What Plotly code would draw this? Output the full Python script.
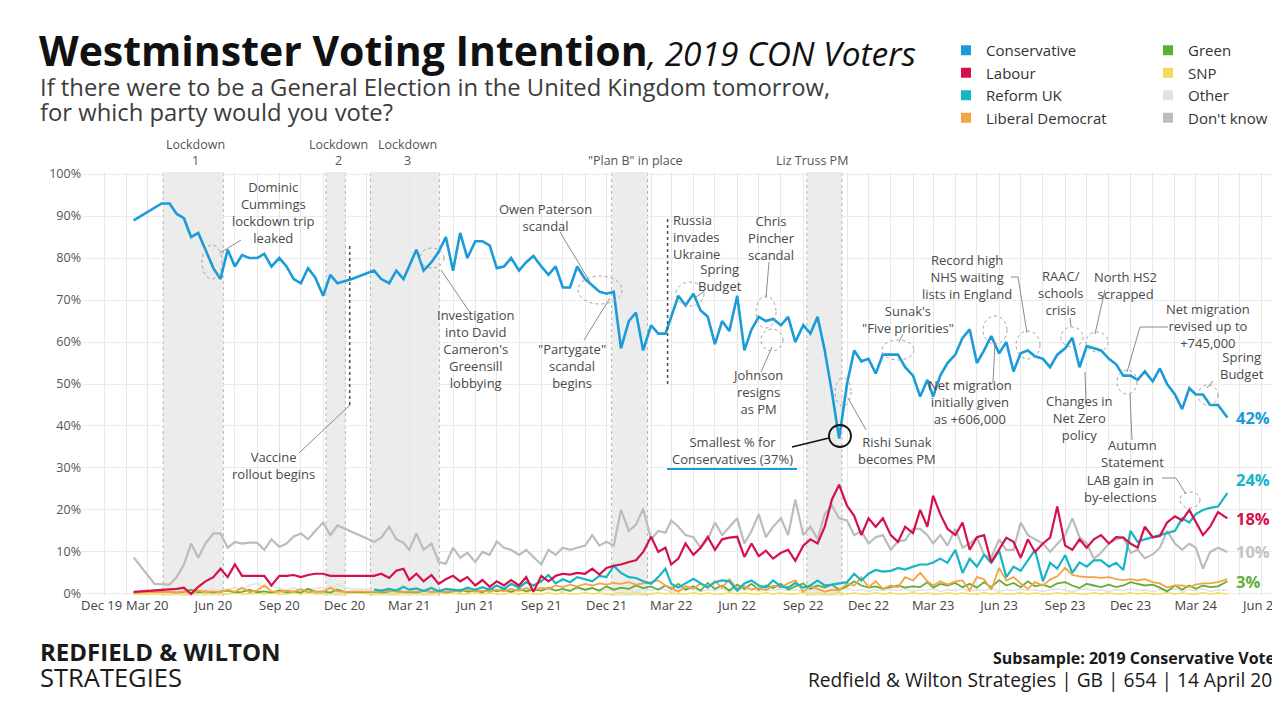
import plotly.graph_objects as go

# ---------------- DATA ----------------
poll_dates = [
    "2020-02-11", "2020-02-21",
    "2020-03-01", "2020-03-11", "2020-03-21", "2020-04-01", "2020-04-11", "2020-04-21",
    "2020-05-01", "2020-05-11", "2020-05-21", "2020-06-01", "2020-06-11", "2020-06-21",
    "2020-07-01", "2020-07-11", "2020-07-21", "2020-08-01", "2020-08-11", "2020-08-21",
    "2020-09-01", "2020-09-11", "2020-09-21", "2020-10-01", "2020-10-11", "2020-10-21",
    "2020-11-01", "2020-11-11", "2020-11-21", "2020-12-01", "2020-12-11", "2020-12-21",
    "2021-01-01", "2021-01-11", "2021-01-21", "2021-02-01", "2021-02-11", "2021-02-21",
    "2021-03-01", "2021-03-11", "2021-03-21", "2021-04-01", "2021-04-11", "2021-04-21",
    "2021-05-01", "2021-05-11", "2021-05-21", "2021-06-01", "2021-06-11", "2021-06-21",
    "2021-07-01", "2021-07-11", "2021-07-21", "2021-08-01", "2021-08-11", "2021-08-21",
    "2021-09-01", "2021-09-11", "2021-09-21", "2021-10-01", "2021-10-11", "2021-10-21",
    "2021-11-01", "2021-11-11", "2021-11-21", "2021-12-01", "2021-12-11", "2021-12-21",
    "2022-01-01", "2022-01-11", "2022-01-21", "2022-02-01", "2022-02-11", "2022-02-21",
    "2022-03-01", "2022-03-11", "2022-03-21", "2022-04-01", "2022-04-11", "2022-04-21",
    "2022-05-01", "2022-05-11", "2022-05-21", "2022-06-01", "2022-06-11", "2022-06-21",
    "2022-07-01", "2022-07-11", "2022-07-21", "2022-08-01", "2022-08-11", "2022-08-21",
    "2022-09-01", "2022-09-11", "2022-09-21", "2022-10-01", "2022-10-11", "2022-10-21",
    "2022-11-01", "2022-11-11", "2022-11-21", "2022-12-01", "2022-12-11", "2022-12-21",
    "2023-01-01", "2023-01-11", "2023-01-21", "2023-02-01", "2023-02-11", "2023-02-21",
    "2023-03-01", "2023-03-11", "2023-03-21", "2023-04-01", "2023-04-11", "2023-04-21",
    "2023-05-01", "2023-05-11", "2023-05-21", "2023-06-01", "2023-06-11", "2023-06-21",
    "2023-07-01", "2023-07-11", "2023-07-21", "2023-08-01", "2023-08-11", "2023-08-21",
    "2023-09-01", "2023-09-11", "2023-09-21", "2023-10-01", "2023-10-11", "2023-10-21",
    "2023-11-01", "2023-11-11", "2023-11-21", "2023-12-01", "2023-12-11", "2023-12-21",
    "2024-01-01", "2024-01-11", "2024-01-21", "2024-02-01", "2024-02-11", "2024-02-21",
    "2024-03-01", "2024-03-11", "2024-03-21", "2024-04-01", "2024-04-14",
]

N = None
conservative = [
    89, N, N, N, 93, 93, 90.5, 89.5, 85, 86, 82, 77.6, 75, 82, 78, 80.7, 80, 80, 81, 78,
    80, 78, 75, 74, 77.6, 75.4, 71, 76, 74, 74.5, 75, N,
    N, 77, 75, 74, 77, 75, 78, 82, 77, 79, 81.5, 85, 77, 86, 80, 84, 84, 83,
    77.6, 78, 80, 77, 79, 80.5, 78, 76, 78, 73, 73, 78, 75, 73.5, 72, 71.5, 72, 58.5,
    65, 67, 58, 64, 62, 62, 66, 71, 68.7, 71.5, 67.5, 66, 59.5, 65, 62.6, 71, 58, 63,
    66, 65, 65.5, 64, 66, 60, 64, 62, 66, 58, 48, 37, 50, 58, 55.4, 56, 52.5, 57,
    57, 57, 54, 52, 47, 51, 47, 52, 55, 57, 61, 63, 55, 58, 61.4, 57.3, 60, 53,
    57.3, 58, 56.6, 56, 54, 57, 58.5, 61, 54, 59, 58.5, 58, 56, 54.7, 52, 52, 51, 53,
    50.6, 53.7, 50, 47.5, 44, 49, 47.5, 47.5, 45, 45, 42,
]
labour = [
    0.5, N, N, N, 1, 1, 1.2, 1.5, 0, 1.7, 3, 4, 6, 4, 7, 4.3, 4.3, 4.3, 4.3, 2,
    4.3, 4.3, 4.5, 4, 4.5, 4.8, 4.8, 4.3, 4.3, 4.3, 4.3, N,
    N, 4.3, 4.8, 3.8, 5.5, 6, 3.3, 4.8, 3, 4.5, 2.4, 3.5, 4.3, 3, 4, 2, 3.3, 1.7,
    3, 2, 3.3, 2, 4, 0.5, 4.3, 3, 4.3, 4.8, 4.6, 5, 4.8, 6, 4.6, 6.2, 6.7, 7,
    7.6, 8, 10, 13.6, 10, 11, 7, 8.4, 12, 9.3, 11, 13.6, 10.5, 13, 13.4, 13.6, 8.8, 12,
    9, 10.3, 8.4, 9.8, 10.5, 7.9, 11.5, 13, 12, 16, 22.5, 26, 21, 18.6, 14, 18, 16, 18,
    14, 12.4, 16, 14.5, 20, 16, 23.4, 19, 15.5, 14, 17, 10.5, 13.5, 14, 7.5, 10.5, 13.4, 12.4,
    8.6, 13, 10, 12, 13.4, 20.8, 11.5, 10.5, 13, 11, 13, 14, 12, 13.5, 13.4, 12, 11, 16,
    13.5, 13.8, 17, 18.5, 17.5, 20, 17, 14, 16, 19.5, 18,
]
reform_uk = [
    N, N, N, N, N, N, N, N, N, N, N, N, N, N, N, N, N, N, N, N,
    N, N, N, N, N, N, N, N, N, N, N, N,
    N, 1, 0.8, 1.2, 0.8, 1.7, 1, 1.3, 0.7, 1.4, 0.6, 1.2, 1, 0.8, 1.5, 1, 1.6, 1,
    2, 1.2, 2.4, 1.5, 2.8, 2, 3, 4.5, 2.5, 3.5, 2.8, 4, 3.5, 3, 4.3, 4, 6.7, 5,
    4, 3.8, 3, 2.4, 4, 6, 2.4, 1.5, 2.5, 3.6, 2.5, 1.6, 2.8, 3.2, 3, 0.8, 2.5, 3.2,
    2, 1.5, 3.2, 1.8, 1.5, 2.6, 1.5, 2, 3.2, 2, 2.2, 2.5, 2.8, 4.8, 3.2, 4.8, 5.7, 5.3,
    5.5, 6.2, 5.8, 6.5, 7, 7, 7.5, 8.4, 7.4, 10.5, 5, 8.4, 6.5, 9.3, 7.4, 10.3, 4, 6.5,
    5.5, 8, 10.5, 3, 7.4, 6, 9.2, 5, 7.5, 6.5, 8, 8, 6.5, 7.4, 5.7, 15, 12.4, 13,
    13.5, 14, 14.5, 15, 18, 17, 19, 20, 20.5, 20.8, 24,
]
lib_dem = [
    0.3, N, N, N, 0.5, 0.5, 0.3, 0.6, 0.2, 0.8, 0.5, 0.6, 0.4, 1, 0.5, 1.5, 0.4, 0.8, 2, 0.6,
    0.5, 0.8, 0.5, 1.2, 0.4, 0.6, 0.5, 1.5, 0.6, 0.5, 0.6, N,
    N, 0.5, 0.5, 0.8, 0.5, 0.4, 0.6, 0.5, 0.8, 0.4, 0.6, 0.5, 0.8, 0.5, 1, 0.6, 0.8, 0.5,
    1, 0.6, 1.2, 0.8, 1.4, 0.9, 1.5, 1.2, 2, 1.6, 2.2, 1.8, 2.4, 2, 2.5, 2.2, 2.6, 2.4,
    2.8, 2.2, 2.4, 2.8, 3.2, 2, 1.5, 0.5, 1.8, 1.2, 2.5, 1.4, 3, 1.5, 3.5, 1.2, 1.8, 1,
    1.5, 0.8, 2, 1.6, 2.5, 3.2, 0.5, 1.8, 1.2, 0.5, 1, 0.8, 2.5, 2, 4, 1.6, 3, 1.2,
    2, 1.6, 4, 3.2, 5, 3, 2, 3, 2.2, 3, 3.2, 0.8, 4, 3.5, 1, 6.2, 3.2, 4,
    2.5, 1.2, 2.8, 2, 3.4, 4.2, 6.2, 4.5, 4.2, 4, 4, 3.8, 4, 3.5, 3.3, 3.5, 3.2, 3.5,
    2.8, 2.5, 1.5, 2, 2, 1.6, 2.2, 2.5, 2.5, 2.8, 3.5,
]
green = [
    0.3, N, N, N, 0.6, 0.4, 0.3, 0.5, 1, 0.4, 0.6, 0.3, 0.5, 0.8, 0.4, 0.5, 1, 0.4, 0.6, 0.3,
    0.8, 0.4, 0.6, 0.3, 1.2, 0.5, 0.6, 0.3, 1, 0.5, 0.4, N,
    N, 0.5, 0.3, 0.6, 0.8, 0.4, 0.5, 0.3, 0.7, 0.5, 0.8, 0.4, 0.6, 1, 0.5, 0.8, 0.4, 1.2,
    0.6, 1, 0.5, 1.2, 0.6, 1, 0.8, 1.5, 0.8, 1.2, 0.7, 1.6, 1, 1.4, 0.8, 1.8, 1, 1.5,
    1.2, 2, 1.4, 1.8, 1, 2, 1.2, 2.4, 1, 1.8, 0.8, 2.6, 1.2, 2, 0.8, 2.2, 1.2, 2.4,
    1, 2, 1.4, 2.4, 1, 1.8, 2.5, 1.2, 2, 1.5, 2.2, 1, 1.8, 3, 2, 1.5, 1.8, 1.2,
    1.6, 2, 1.5, 1.8, 1.6, 2.8, 1.5, 2.4, 2, 2.6, 1.6, 2.4, 1.5, 2.8, 1.6, 3.3, 2, 2.6,
    1.6, 3, 1.8, 2.2, 1.6, 2.5, 2.8, 2, 1.4, 2.4, 2, 1.6, 2.2, 1.6, 2, 2.8, 2.4, 2,
    2.2, 1.5, 0.6, 2, 1, 2, 1.2, 2, 1.6, 1.8, 3,
]
snp = [
    0, N, N, N, 0, 0, 0.2, 0, 0, 0.3, 0, 0.2, 0, 0, 0.3, 0, 0, 0.2, 0, 0.3,
    0, 0, 0.2, 0, 0.3, 0, 0, 0.2, 0, 0, 0.3, N,
    N, 0, 0.2, 0, 0, 0.3, 0, 0.2, 0, 0, 0.3, 0, 0.2, 0, 0, 0.3, 0, 0.2,
    0, 0, 0.3, 0, 0.2, 0, 0, 0.3, 0, 0.2, 0, 0, 0.3, 0, 0.2, 0, 0, 0.3,
    0, 0.2, 0, 0, 0.3, 0, 0.2, 0, 0, 0.3, 0, 0.2, 0, 0, 0.3, 0, 0.2, 0,
    0, 0.3, 0, 0.2, 0, 0, 0.3, 0, 0.2, 0, 0, 0.3, 0, 0.2, 0, 0, 0.3, 0,
    0.2, 0, 0, 0.3, 0, 0.2, 0, 0, 0.3, 0, 0.2, 0, 0, 0.3, 0, 0.2, 0, 0,
    0.3, 0, 0.2, 0, 0, 0.3, 0, 0.2, 0, 0, 0.3, 0, 0.2, 0, 0, 0.3, 0, 0.2,
    0, 0, 0.3, 0, 0.2, 0, 0, 0.3, 0, 0.2, 0,
]
other = [
    0.5, N, N, N, 0.4, 0.6, 0.5, 0.8, 1, 0.6, 0.8, 1.2, 0.8, 1, 1.5, 1, 2, 2.5, 1.5, 2,
    1.2, 1, 1.4, 0.8, 1, 1.2, 1.5, 1, 2.2, 1.5, 1.2, N,
    N, 1, 0.8, 1.2, 0.8, 1, 0.6, 1, 0.8, 1.2, 0.8, 1, 0.6, 1, 0.8, 1.2, 0.6, 1,
    0.8, 1.4, 1, 0.6, 1, 0.8, 1.2, 0.8, 1, 0.6, 1, 1.2, 0.8, 1.2, 0.6, 1, 0.8, 1.2,
    1, 0.6, 1.2, 0.8, 1.4, 1, 0.6, 1, 0.8, 1.2, 0.6, 1, 0.8, 1.2, 0.6, 1, 0.8, 1.4,
    0.6, 1, 0.8, 1.2, 0.8, 1, 0.6, 1, 1.2, 0.8, 0.6, 1, 1.2, 0.8, 1, 0.6, 1, 0.8,
    1, 0.8, 1.2, 0.6, 1, 0.8, 1.2, 0.6, 1, 0.8, 1.2, 0.6, 1, 0.8, 1.4, 0.6, 1, 0.8,
    1.2, 0.8, 1, 0.6, 1, 1.2, 0.8, 0.6, 1, 1.2, 0.8, 1, 0.6, 1, 0.8, 1.2, 0.8, 1,
    0.6, 1, 0.8, 1.2, 0.6, 1, 0.8, 1.2, 0.6, 1, 0.8,
]
dont_know = [
    8.7, N, N, 2.4, N, 2.2, 4, 7, 12, 8.6, 12, 14.4, 14.4, 11, 12.4, 12, 12.2, 12.2, 10.5, 13,
    11.2, 12, 13.7, 14.4, 13, 15, 17, 14, 16.3, N, N, N,
    N, 12.4, 13.4, 16, 13, 12.2, 10.5, 14.4, 10.5, 12, 7.6, 7.2, 11, 8.6, 9.8, 7.6, 10, 9.3,
    12.5, 11, 10.5, 9.3, 10.5, 8.8, 7, 10.5, 9.3, 11, 10.5, 11, 11.5, 14, 11.5, 12.4, 11.5, 20,
    15, 16.5, 20.3, 13, 15, 14.6, 17.5, 16, 14, 13.5, 11, 13, 17, 14, 16, 18, 12, 15,
    19, 13.5, 16, 18, 14, 22.5, 14, 16, 13, 19, 21, 18, 17.5, 14, 15, 12, 13.5, 14,
    10.5, 12.5, 12.8, 15.5, 15.5, 14, 12, 14, 11.5, 15.5, 11, 12, 13.5, 9.3, 8.6, 13, 10.5, 10.5,
    17, 14, 13, 12, 10, 12, 14, 18, 13.5, 12, 8.4, 9.8, 12, 13, 13.5, 9.8, 10.5, 8.5,
    9.4, 11, 15, 12, 10.5, 12, 11, 6, 10, 11, 10,
]

parties = ["Conservative", "Labour", "Reform UK", "Liberal Democrat",
           "Green", "SNP", "Other", "Don't know"]
party_values = [conservative, labour, reform_uk, lib_dem, green, snp, other, dont_know]
party_colors = ["#1b9bd7", "#d6104a", "#16b5c6", "#f4a442",
                "#62ad34", "#f2dc5d", "#e2e2e2", "#bcbcbc"]
line_widths = [2.6, 2.2, 2.2, 1.8, 1.8, 1.5, 1.5, 2.2]
draw_order = [6, 5, 4, 3, 7, 2, 1, 0]

# shaded periods: (start, end, label)
periods = [("2020-03-23", "2020-06-15", "Lockdown<br>1"),
           ("2020-11-05", "2020-12-02", "Lockdown<br>2"),
           ("2021-01-06", "2021-04-12", "Lockdown<br>3"),
           ("2021-12-08", "2022-01-27", "\"Plan B\" in place"),
           ("2022-09-06", "2022-10-25", "Liz Truss PM")]
# dotted event lines: (date, top %, bottom %)
event_lines = [("2020-12-08", 83, 45), ("2022-02-24", 90, 50)]

tick_dates = ["2019-12-01", "2020-03-01", "2020-06-01", "2020-09-01", "2020-12-01",
              "2021-03-01", "2021-06-01", "2021-09-01", "2021-12-01", "2022-03-01",
              "2022-06-01", "2022-09-01", "2022-12-01", "2023-03-01", "2023-06-01",
              "2023-09-01", "2023-12-01", "2024-03-01", "2024-06-01"]
tick_labels = ["", "Mar 20", "Jun 20", "Sep 20", "Dec 20", "Mar 21", "Jun 21", "Sep 21",
               "Dec 21", "Mar 22", "Jun 22", "Sep 22", "Dec 22", "Mar 23", "Jun 23",
               "Sep 23", "Dec 23", "Mar 24", "Jun 24"]
y_ticks = [0, 10, 20, 30, 40, 50, 60, 70, 80, 90, 100]
y_tick_labels = ["0%", "10%", "20%", "30%", "40%", "50%", "60%", "70%", "80%", "90%", "100%"]

FONT = "Open Sans"
TXT = "#4a4a4a"

# plot area in screen pixels; the page body adds an 8px offset to the figure
PAGE_OFF = 8
FIG_W, FIG_H = 1280 - PAGE_OFF, 720 - PAGE_OFF
L, R, T, B = 82, 1274, 172, 596


def px(x):
    return (x - L) / (R - L)


def py(y):
    return (B - y) / (B - T)


fig = go.Figure()

for i in draw_order:
    fig.add_trace(go.Scatter(
        x=poll_dates, y=party_values[i], mode="lines", name=parties[i],
        line=dict(color=party_colors[i], width=line_widths[i]),
        connectgaps=True, showlegend=False,
        hovertemplate="%{x|%d %b %Y}: %{y}%<extra>" + parties[i] + "</extra>"))

# legend entries (square swatches), two columns
for i, name in enumerate(parties):
    fig.add_trace(go.Scatter(
        x=[None], y=[None], mode="markers", name=name,
        marker=dict(symbol="square", size=10, color=party_colors[i]),
        legend="legend" if i < 4 else "legend2", legendrank=i + 1))

shapes = []
annotations = []

for start, end, label in periods:
    shapes.append(dict(type="rect", xref="x", yref="paper", x0=start, x1=end, y0=0, y1=1,
                       fillcolor="#ececec", line=dict(width=0), layer="below"))
    for d in (start, end):
        shapes.append(dict(type="line", xref="x", yref="paper", x0=d, x1=d, y0=0, y1=1,
                           line=dict(color="#b5b5b5", width=1, dash="dot"), layer="below"))

for d, top, bottom in event_lines:
    shapes.append(dict(type="line", xref="x", yref="y", x0=d, x1=d, y0=bottom, y1=top,
                       line=dict(color="#555555", width=1.6, dash="dot")))

# period labels
period_label_px = [195, 338, 407, 635, 812]
for (start, end, label), xp in zip(periods, period_label_px):
    annotations.append(dict(text=label, x=px(xp), y=py(171), xref="paper", yref="paper",
                            xanchor="center", yanchor="bottom", showarrow=False,
                            font=dict(family=FONT, size=12.5, color="#555")))

# event notes: text, centre x, centre y
notes = [
    ("Dominic<br>Cummings<br>lockdown trip<br>leaked", 273, 212),
    ("Vaccine<br>rollout begins", 273, 465),
    ("Investigation<br>into David<br>Cameron's<br>Greensill<br>lobbying", 476, 349),
    ("Owen Paterson<br>scandal", 545, 217),
    ("\"Partygate\"<br>scandal<br>begins", 572, 366),
    ("Spring<br>Budget", 720, 277),
    ("Chris<br>Pincher<br>scandal", 771, 238),
    ("Johnson<br>resigns<br>as PM", 757, 392),
    ("Smallest % for<br>Conservatives (37%)", 732, 450),
    ("Rishi Sunak<br>becomes PM", 897, 450),
    ("Sunak's<br>\"Five priorities\"", 908, 319),
    ("Record high<br>NHS waiting<br>lists in England", 967, 277),
    ("Net migration<br>initially given<br>as +606,000", 970, 402),
    ("RAAC/<br>schools<br>crisis", 1061, 293),
    ("North HS2<br>scrapped", 1125, 285),
    ("Changes in<br>Net Zero<br>policy", 1079, 418),
    ("Net migration<br>revised up to<br>+745,000", 1208, 326),
    ("Autumn<br>Statement", 1132, 453),
    ("Spring<br>Budget", 1242, 365),
    ("LAB gain in<br>by-elections", 1120, 488),
]
for text, xp, yp in notes:
    annotations.append(dict(text=text, x=px(xp), y=py(yp), xref="paper", yref="paper",
                            xanchor="center", yanchor="middle", align="center",
                            showarrow=False, font=dict(family=FONT, size=13, color=TXT)))
annotations.append(dict(text="Russia<br>invades<br>Ukraine", x=px(671), y=py(237),
                        xref="paper", yref="paper", xanchor="left", yanchor="middle",
                        align="left", showarrow=False,
                        font=dict(family=FONT, size=13, color=TXT)))

# leader lines (pixel polylines)
leaders = [
    [(241, 240), (220, 253)], [(350, 405), (299, 453)], [(441, 270), (471, 314)],
    [(560, 232), (590, 282)], [(584, 340), (610, 298)], [(703, 292), (695, 298)],
    [(769, 262), (766, 298)], [(761, 372), (772, 347)], [(866, 430), (848, 398)],
    [(903, 334), (899, 342)], [(1011, 277), (1018, 277), (1027, 333)],
    [(993, 383), (995, 342)], [(1070, 318), (1071, 327)], [(1105, 290), (1095, 334)],
    [(1086, 402), (1085, 372)], [(1168, 327), (1140, 327), (1127, 372)],
    [(1130, 394), (1132, 440)], [(1213, 381), (1207, 388)],
    [(1162, 478), (1176, 478), (1186, 494)],
]
for pts in leaders:
    path = "M " + " L ".join(f"{px(a):.5f},{py(b):.5f}" for a, b in pts)
    shapes.append(dict(type="path", xref="paper", yref="paper", path=path,
                       line=dict(color="#8a8a8a", width=1)))

# dashed highlight ellipses (cx, cy, rx, ry)
ellipses = [(212, 262, 10, 17), (432, 258, 12, 10), (600, 290, 22, 14), (690, 294, 14, 12),
            (766, 312, 10, 16), (772, 340, 11, 11), (843, 392, 8, 14), (898, 350, 16, 10),
            (1028, 345, 12, 14), (995, 330, 12, 14), (1072, 337, 11, 10), (1097, 342, 11, 10),
            (1127, 382, 10, 12), (1208, 395, 10, 10), (1190, 500, 10, 8)]
for cx, cy, rx, ry in ellipses:
    shapes.append(dict(type="circle", xref="paper", yref="paper",
                       x0=px(cx - rx), x1=px(cx + rx), y0=py(cy + ry), y1=py(cy - ry),
                       line=dict(color="#a0a0a0", width=1, dash="dot")))

# minimum marker circle + leader + underline
shapes.append(dict(type="circle", xref="paper", yref="paper", x0=px(829), x1=px(851),
                   y0=py(447), y1=py(425), line=dict(color="#111", width=1.8)))
shapes.append(dict(type="line", xref="paper", yref="paper", x0=px(792), y0=py(447),
                   x1=px(829), y1=py(438), line=dict(color="#111", width=1.5)))
shapes.append(dict(type="line", xref="paper", yref="paper", x0=px(667), y0=py(469),
                   x1=px(797), y1=py(469), line=dict(color="#1b9bd7", width=2)))

# end-of-line value labels
end_label_parties = [0, 2, 1, 7, 4]
end_label_shift = [0, 14, 0, 0, 0]
for i, ys in zip(end_label_parties, end_label_shift):
    val = party_values[i][-1]
    annotations.append(dict(text=f"<b>{val:.0f}%</b>", x=poll_dates[-1], y=val,
                            xref="x", yref="y", xanchor="left", yanchor="middle",
                            xshift=7, yshift=ys, showarrow=False,
                            font=dict(family=FONT, size=16.5,
                                      color=party_colors[i] if i != 7 else "#c4c4c4")))

# Dec 19 axis label (left aligned at axis start)
annotations.append(dict(text="Dec 19", x=px(79), y=py(605), xref="paper", yref="paper",
                        xanchor="left", yanchor="middle", showarrow=False,
                        font=dict(family=FONT, size=13, color="#444")))

# title
annotations.append(dict(text="<b>Westminster Voting Intention</b>"
                             "<span style='font-size:33.5px'><i>, 2019 CON Voters</i></span>",
                        x=px(37), y=py(50), xref="paper", yref="paper",
                        xanchor="left", yanchor="middle", showarrow=False,
                        font=dict(family=FONT, size=41, color="#111")))
# subtitle (two lines)
annotations.append(dict(
    text="If there were to be a General Election in the United Kingdom tomorrow,",
    x=px(38), y=py(87), xref="paper", yref="paper", xanchor="left", yanchor="middle",
    showarrow=False, font=dict(family=FONT, size=23.8, color="#3c3c3c")))
annotations.append(dict(
    text="for which party would you vote?",
    x=px(38), y=py(112), xref="paper", yref="paper", xanchor="left", yanchor="middle",
    showarrow=False, font=dict(family=FONT, size=23.8, color="#3c3c3c")))

# footer
annotations.append(dict(text="<b>REDFIELD & WILTON</b>",
                        x=px(38), y=py(651), xref="paper", yref="paper",
                        xanchor="left", yanchor="middle", showarrow=False,
                        font=dict(family=FONT, size=24, color="#1a1a1a")))
annotations.append(dict(text="STRATEGIES",
                        x=px(38), y=py(677), xref="paper", yref="paper",
                        xanchor="left", yanchor="middle", showarrow=False,
                        font=dict(family=FONT, size=25.5, color="#1a1a1a")))
annotations.append(dict(text="<b>Subsample: 2019 Conservative Voters</b>",
                        x=px(1292), y=py(658), xref="paper", yref="paper",
                        xanchor="right", yanchor="middle", showarrow=False,
                        font=dict(family=FONT, size=16, color="#1a1a1a")))
annotations.append(dict(text="Redfield & Wilton Strategies | GB | 654 | 14 April 2024",
                        x=px(1296), y=py(679), xref="paper", yref="paper",
                        xanchor="right", yanchor="middle", showarrow=False,
                        font=dict(family=FONT, size=19.2, color="#1a1a1a")))

fig.update_layout(
    width=FIG_W, height=FIG_H,
    margin=dict(l=L - PAGE_OFF, r=FIG_W - (R - PAGE_OFF), t=T - PAGE_OFF,
                b=FIG_H - (B - PAGE_OFF), autoexpand=False),
    paper_bgcolor="white", plot_bgcolor="white",
    font=dict(family=FONT, color="#333"),
    showlegend=True,
    legend=dict(x=px(946), y=py(34), xref="paper", yref="paper", xanchor="left",
                yanchor="top", orientation="v", bgcolor="rgba(0,0,0,0)", tracegroupgap=0,
                font=dict(family=FONT, size=15, color="#333"), itemclick=False),
    legend2=dict(x=px(1148), y=py(34), xref="paper", yref="paper", xanchor="left",
                 yanchor="top", orientation="v", bgcolor="rgba(0,0,0,0)", tracegroupgap=0,
                 font=dict(family=FONT, size=15, color="#333"), itemclick=False),
    shapes=shapes, annotations=annotations,
    xaxis=dict(type="date", range=["2019-12-01", "2024-06-18"], automargin=False,
               tickvals=tick_dates, ticktext=tick_labels, ticks="",
               showgrid=True, gridcolor="#e6e6e6", gridwidth=1,
               minor=dict(dtick="M1", tick0="2019-12-01", showgrid=True,
                          gridcolor="#e9e9e9", gridwidth=1),
               showline=False, zeroline=False, ticklabeloverflow="allow",
               tickfont=dict(family=FONT, size=13, color="#444")),
    yaxis=dict(range=[-0.5, 100.5], tickvals=y_ticks, ticktext=y_tick_labels,
               automargin=False, showgrid=True, gridcolor="#ececec", zeroline=False,
               showline=False, ticks="", tickfont=dict(family=FONT, size=12.5, color="#555")),
)

fig.write_html("out.html")
